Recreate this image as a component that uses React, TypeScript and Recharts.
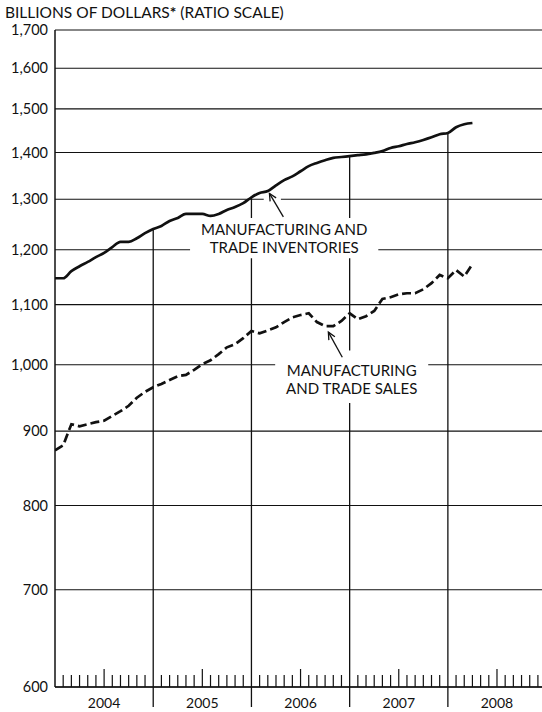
import React from 'react';
import {
  CartesianGrid,
  Line,
  LineChart,
  ReferenceArea,
  ReferenceLine,
  XAxis,
  YAxis,
} from 'recharts';

// monthly, Jan 2004 .. Apr 2008, billions of dollars
const inventories = [
  1147, 1147, 1160, 1169, 1177, 1186, 1194, 1205, 1215, 1215, 1222, 1232,
  1240, 1246, 1256, 1262, 1270, 1270, 1270, 1266, 1270, 1278, 1284, 1292,
  1304, 1313, 1317, 1329, 1340, 1348, 1359, 1370, 1377, 1383, 1388, 1390,
  1392, 1394, 1396, 1399, 1403, 1410, 1414, 1419, 1423, 1428, 1434, 1441,
  1444, 1457, 1464, 1467,
];

const sales = [
  873, 880, 910, 907, 910, 913, 915, 922, 929, 937, 949, 958,
  965, 970, 976, 982, 984, 992, 1001, 1007, 1017, 1028, 1033, 1043,
  1055, 1051, 1056, 1061, 1070, 1078, 1082, 1085, 1070, 1063, 1063, 1072,
  1085, 1075, 1080, 1089, 1110, 1113, 1118, 1120, 1120, 1127, 1138, 1153,
  1147, 1162, 1150, 1173,
];

const yTicks = [600, 700, 800, 900, 1000, 1100, 1200, 1300, 1400, 1500, 1600, 1700];
const years = ['2004', '2005', '2006', '2007', '2008'];
const yearBreaks = [12, 24, 36, 48];
const monthTicks = Array.from({ length: 59 }, (_, i) => i + 1);

const data = inventories.map((v, i) => ({ m: i, inventories: v, sales: sales[i] }));

const FONT = 'Lato, "Noto Sans", sans-serif';
const INK = '#111';

function MonthTick(props: any) {
  const { x, y, payload } = props;
  const v = payload.value;
  if (v % 12 === 0) {
    return <line x1={x} x2={x} y1={y} y2={y + 20} stroke={INK} strokeWidth={1.3} />;
  }
  if (v % 12 === 6) {
    return (
      <g>
        <line x1={x} x2={x} y1={y} y2={y - 18} stroke={INK} strokeWidth={1.2} />
        <text x={x} y={y + 21} textAnchor="middle" fontFamily={FONT} fontSize={14} fill={INK}>
          {years[Math.floor(v / 12)]}
        </text>
      </g>
    );
  }
  return <line x1={x} x2={x} y1={y} y2={y - 12} stroke={INK} strokeWidth={1.2} />;
}

function Arrow(props: any) {
  const { x1, y1, x2, y2 } = props;
  const a = Math.atan2(y2 - y1, x2 - x1);
  const len = 8;
  const spread = 0.45;
  const h1x = x2 - len * Math.cos(a - spread);
  const h1y = y2 - len * Math.sin(a - spread);
  const h2x = x2 - len * Math.cos(a + spread);
  const h2y = y2 - len * Math.sin(a + spread);
  return (
    <g stroke={INK} strokeWidth={1.3} fill="none">
      <line x1={x1} y1={y1} x2={x2} y2={y2} />
      <polyline points={`${h1x},${h1y} ${x2},${y2} ${h2x},${h2y}`} />
    </g>
  );
}

function boxText(lines: string[], baselines: number[]) {
  return (p: any) => {
    const vb = p.viewBox;
    const cx = vb.x + vb.width / 2;
    return (
      <g>
        {lines.map((t, i) => (
          <text
            key={t}
            x={cx}
            y={vb.y + baselines[i]}
            textAnchor="middle"
            fontFamily={FONT}
            fontSize={15}
            fill={INK}
          >
            {t}
          </text>
        ))}
      </g>
    );
  };
}

export default function App() {
  return (
    <div
      style={{
        position: 'fixed',
        left: 0,
        top: 0,
        width: 542,
        height: 712,
        overflow: 'hidden',
        background: '#fff',
      }}
    >
      <div
        style={{
          position: 'absolute',
          left: 5,
          top: 3,
          fontFamily: FONT,
          fontSize: 15.5,
          color: INK,
          whiteSpace: 'nowrap',
        }}
      >
        BILLIONS OF DOLLARS<b>*</b> (RATIO SCALE)
      </div>
      <LineChart
        width={542}
        height={712}
        data={data}
        margin={{ top: 30, right: 0, bottom: 0, left: 0 }}
      >
        <CartesianGrid vertical={false} stroke={INK} strokeWidth={1.2} />
        <XAxis
          dataKey="m"
          type="number"
          domain={[0, 59.5]}
          ticks={monthTicks}
          interval={0}
          allowDataOverflow
          height={25}
          tickLine={false}
          tickSize={0}
          tickMargin={0}
          axisLine={{ stroke: INK, strokeWidth: 1.5 }}
          tick={(p: any) => <MonthTick {...p} />}
        />
        <YAxis
          scale="log"
          domain={[600, 1700]}
          ticks={yTicks}
          interval={0}
          allowDataOverflow
          width={55}
          tickLine={false}
          tickSize={0}
          tickMargin={7}
          axisLine={{ stroke: INK, strokeWidth: 1.5 }}
          tickFormatter={(v: number) => v.toLocaleString('en-US')}
          tick={{ fill: INK, fontSize: 14.5, fontFamily: FONT }}
        />
        {yearBreaks.map((m) => (
          <ReferenceLine
            key={m}
            zIndex={-50}
            segment={[
              { x: m, y: 600 },
              { x: m, y: inventories[m] },
            ]}
            stroke={INK}
            strokeWidth={1.3}
          />
        ))}
        <ReferenceArea
          zIndex={50}
          x1={16.5}
          x2={39.5}
          y1={1184}
          y2={1262}
          fill="#fff"
          fillOpacity={1}
          stroke="none"
          label={boxText(['MANUFACTURING AND', 'TRADE INVENTORIES'], [17, 35])}
        />
        <ReferenceArea
          zIndex={50}
          x1={25.5}
          x2={27.6}
          y1={1288}
          y2={1306}
          fill="#fff"
          fillOpacity={1}
          stroke="none"
        />
        <ReferenceArea
          zIndex={50}
          x1={26.9}
          x2={45.6}
          y1={941}
          y2={1023}
          fill="#fff"
          fillOpacity={1}
          stroke="none"
          label={boxText(['MANUFACTURING', 'AND TRADE SALES'], [26, 44])}
        />
        <Line
          dataKey="inventories"
          type="monotone"
          stroke={INK}
          strokeWidth={2.7}
          dot={false}
          isAnimationActive={false}
        />
        <Line
          dataKey="sales"
          type="linear"
          stroke={INK}
          strokeWidth={2.7}
          strokeDasharray="9 4"
          dot={false}
          isAnimationActive={false}
        />
        <ReferenceLine
          segment={[
            { x: 27.9, y: 1264 },
            { x: 26.2, y: 1312 },
          ]}
          shape={(p: any) => <Arrow {...p} />}
        />
        <ReferenceLine
          segment={[
            { x: 35.1, y: 1012 },
            { x: 33.4, y: 1053 },
          ]}
          shape={(p: any) => <Arrow {...p} />}
        />
      </LineChart>
    </div>
  );
}
